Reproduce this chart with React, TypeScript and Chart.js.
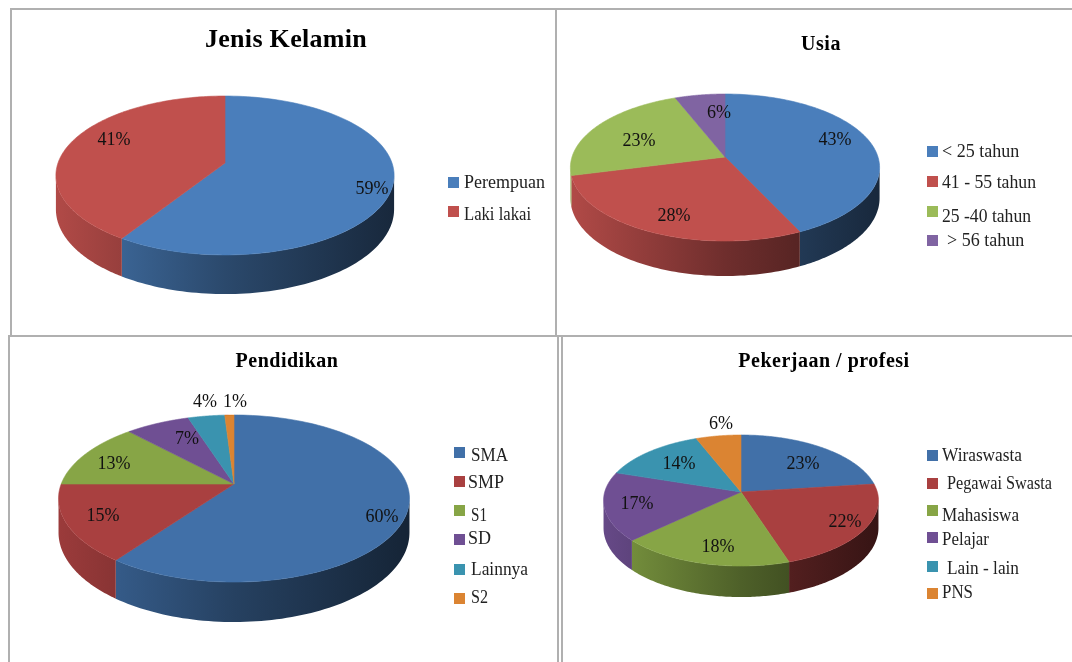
import React, { useEffect, useRef } from "react";
import { Chart, registerables } from "chart.js";

Chart.register(...registerables);

const FONT = '"Liberation Serif", serif';

const jenisLabels = ["Perempuan", "Laki lakai"];
const jenisValues = [59, 41];
const usiaLabels = ["< 25 tahun", "41 - 55 tahun", "25 -40 tahun", "> 56 tahun"];
const usiaValues = [43, 28, 23, 6];
const pendidikanLabels = ["SMA", "SMP", "S1", "SD", "Lainnya", "S2"];
const pendidikanValues = [60, 15, 13, 7, 4, 1];
const pekerjaanLabels = ["Wiraswasta", "Pegawai Swasta", "Mahasiswa", "Pelajar", "Lain - lain", "PNS"];
const pekerjaanValues = [23, 22, 18, 17, 14, 6];

const brightColors = ["#4A7EBB", "#C0504D", "#9BBB59", "#8064A2"];
const deepColors = ["#4170A8", "#A94040", "#87A546", "#6F4F93", "#3A93AF", "#DB8432"];

type Layout = {
  title: string; titleSize: number; titleSpacing: string; titleCx: number; titleY: number; top: number;
  cx: number; cy: number; rx: number; ry: number; p: number; d0: number;
  pct: number[][]; markerX: number; markers: number[]; textX: number[]; textY: number[]; textW: number[];
};

const shade = (hex: string, k: number) => {
  const n = parseInt(hex.slice(1), 16);
  const c = [(n >> 16) & 255, (n >> 8) & 255, n & 255].map((v) => Math.round(v * k));
  return `rgb(${c[0]},${c[1]},${c[2]})`;
};

const CANVAS_W = 540;
const CANVAS_H = 332;

function pie3d(L: Layout) {
  return {
    id: "pie3d",
    beforeDraw(chart: any) {
      (chart.ctx as any).letterSpacing = L.titleSpacing;
    },
    beforeDatasetsDraw(chart: any) {
      const ctx: CanvasRenderingContext2D = chart.ctx;
      (ctx as any).letterSpacing = "0px";
      const ox = chart.canvas.offsetLeft;
      const oy = chart.canvas.offsetTop;
      const meta = chart.getDatasetMeta(0);
      const colors: string[] = chart.data.datasets[0].backgroundColor;
      const values: number[] = chart.data.datasets[0].data;
      const labels: string[] = chart.data.labels;
      const px = (a: number, depth = 0) => {
        const u = Math.cos(a);
        const v = Math.sin(a);
        const f = 1 / (1 - L.p * v);
        return [L.cx - ox + L.rx * u * f, L.cy - oy + L.ry * v * f + depth * f];
      };
      const halfW = L.rx / Math.sqrt(1 - L.p * L.p);
      const xl = L.cx - ox - halfW;
      const xr = L.cx - ox + halfW;
      const frontA = Math.asin(L.p);
      const frontB = Math.PI - frontA;
      ctx.save();
      meta.data.forEach((arc: any, i: number) => {
        const a0 = Math.max(arc.startAngle, frontA);
        const a1 = Math.min(arc.endAngle, frontB);
        if (a1 <= a0) return;
        const grad = ctx.createLinearGradient(xl, 0, xr, 0);
        grad.addColorStop(0, shade(colors[i], 0.92));
        grad.addColorStop(0.5, shade(colors[i], 0.58));
        grad.addColorStop(1, shade(colors[i], 0.32));
        ctx.beginPath();
        const N = 80;
        for (let s = 0; s <= N; s++) {
          const [x, y] = px(a0 + ((a1 - a0) * s) / N);
          s === 0 ? ctx.moveTo(x, y) : ctx.lineTo(x, y);
        }
        for (let s = N; s >= 0; s--) {
          const [x, y] = px(a0 + ((a1 - a0) * s) / N, L.d0);
          ctx.lineTo(x, y);
        }
        ctx.closePath();
        ctx.fillStyle = grad;
        ctx.fill();
      });
      meta.data.forEach((arc: any, i: number) => {
        ctx.beginPath();
        ctx.moveTo(L.cx - ox, L.cy - oy);
        const N = 120;
        for (let s = 0; s <= N; s++) {
          const [x, y] = px(arc.startAngle + ((arc.endAngle - arc.startAngle) * s) / N);
          ctx.lineTo(x, y);
        }
        ctx.closePath();
        ctx.fillStyle = colors[i];
        ctx.strokeStyle = colors[i];
        ctx.lineWidth = 0.6;
        ctx.fill();
        ctx.stroke();
      });
      ctx.fillStyle = "#111";
      ctx.font = `18px ${FONT}`;
      ctx.textAlign = "center";
      ctx.textBaseline = "middle";
      values.forEach((v, i) => ctx.fillText(`${v}%`, L.pct[i][0] - ox, L.pct[i][1] - oy));
      ctx.textAlign = "left";
      labels.forEach((t, i) => {
        ctx.fillStyle = colors[i];
        ctx.fillRect(L.markerX - ox, L.markers[i] - 5 - oy, 11, 11);
        ctx.fillStyle = "#222";
        ctx.fillText(t, L.textX[i] - ox, L.textY[i] - oy, L.textW[i]);
      });
      ctx.restore();
      return false;
    },
  };
}

const charts: { labels: string[]; values: number[]; colors: string[]; layout: Layout }[] = [
  {
    labels: jenisLabels, values: jenisValues, colors: brightColors,
    layout: {
      title: "Jenis Kelamin", titleSize: 26, titleSpacing: "0.3px", titleCx: 286, titleY: 40, top: 0,
      cx: 225, cy: 163, rx: 167, ry: 77.5, p: 0.157, d0: 33,
      pct: [[372, 189], [114, 140]],
      markerX: 448, markers: [182, 211], textX: [464, 464], textY: [183, 215], textW: [82, 67],
    },
  },
  {
    labels: usiaLabels, values: usiaValues, colors: brightColors,
    layout: {
      title: "Usia", titleSize: 20, titleSpacing: "0.5px", titleCx: 821, titleY: 45, top: 0,
      cx: 725, cy: 157, rx: 153, ry: 72, p: 0.143, d0: 30,
      pct: [[835, 140], [674, 216], [639, 141], [719, 113]],
      markerX: 927, markers: [151, 181, 211, 240], textX: [942, 942, 942, 947], textY: [152, 183, 217, 241], textW: [79, 94, 89, 79],
    },
  },
  {
    labels: pendidikanLabels, values: pendidikanValues, colors: deepColors,
    layout: {
      title: "Pendidikan", titleSize: 20, titleSpacing: "0.5px", titleCx: 287, titleY: 362, top: 330,
      cx: 234, cy: 484, rx: 172.8, ry: 81, p: 0.174, d0: 33,
      pct: [[382, 517], [103, 516], [114, 464], [187, 439], [205, 402], [235, 402]],
      markerX: 454, markers: [452, 481, 510, 539, 569, 598], textX: [471, 468, 471, 468, 471, 471], textY: [456, 483, 516, 539, 570, 598], textW: [37, 36, 16, 23, 57, 17],
    },
  },
  {
    labels: pekerjaanLabels, values: pekerjaanValues, colors: deepColors,
    layout: {
      title: "Pekerjaan / profesi", titleSize: 20, titleSpacing: "0.5px", titleCx: 824, titleY: 362, top: 330,
      cx: 741, cy: 492, rx: 136.3, ry: 64.4, p: 0.13, d0: 27,
      pct: [[803, 464], [845, 522], [718, 547], [637, 504], [679, 464], [721, 424]],
      markerX: 927, markers: [455, 483, 510, 537, 566, 593], textX: [942, 947, 942, 942, 947, 942], textY: [456, 484, 516, 540, 569, 593], textW: [80, 105, 77, 47, 72, 31],
    },
  },
];

const rules: number[][] = [
  [10, 8, 1062, 2],
  [10, 8, 2, 328],
  [555, 8, 2, 328],
  [8, 335, 1064, 2],
  [8, 336, 2, 326],
  [557, 336, 2, 326],
  [561, 336, 2, 326],
];

function PieCard({ cfg }: { cfg: (typeof charts)[number] }) {
  const ref = useRef<HTMLCanvasElement>(null);
  const L = cfg.layout;
  useEffect(() => {
    const chart = new Chart(ref.current as HTMLCanvasElement, {
      type: "pie",
      data: {
        labels: cfg.labels,
        datasets: [{ data: cfg.values, backgroundColor: cfg.colors, borderWidth: 0 }],
      },
      options: {
        responsive: false,
        animation: false,
        layout: { padding: 0 },
        plugins: {
          legend: { display: false },
          tooltip: { enabled: false },
          title: {
            display: true,
            text: L.title,
            color: "#000",
            font: { family: FONT, size: L.titleSize, weight: "bold" },
            padding: { top: L.titleY - L.top - (L.titleSize * 1.2) / 2, bottom: 0 },
          },
        },
      },
      plugins: [pie3d(L)],
    } as any);
    return () => chart.destroy();
  }, []);
  return (
    <canvas
      ref={ref}
      width={CANVAS_W}
      height={CANVAS_H}
      style={{ position: "absolute", left: L.titleCx - CANVAS_W / 2, top: L.top, width: CANVAS_W, height: CANVAS_H, filter: "blur(0.4px)" }}
    />
  );
}

export default function App() {
  return (
    <div style={{ position: "absolute", left: 0, top: 0, width: 1072, height: 662, overflow: "hidden", background: "#fff" }}>
      {rules.map((r, i) => (
        <div key={i} style={{ position: "absolute", left: r[0], top: r[1], width: r[2], height: r[3], background: "#b0b0b0" }} />
      ))}
      {charts.map((c, i) => (
        <PieCard key={i} cfg={c} />
      ))}
    </div>
  );
}
